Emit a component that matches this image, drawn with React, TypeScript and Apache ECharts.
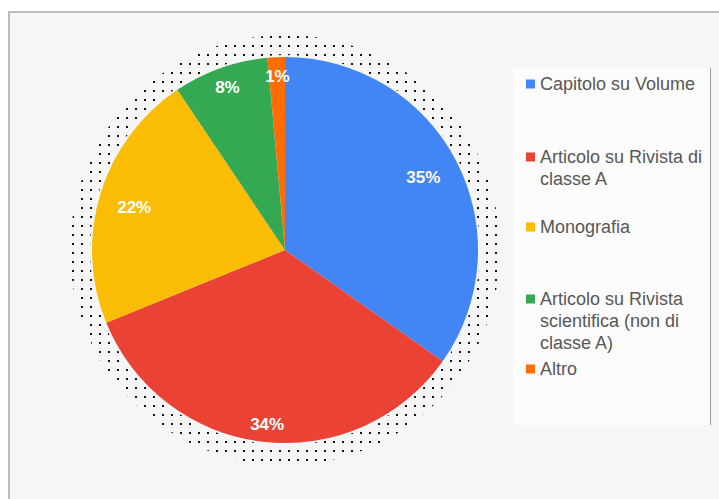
import React, { useEffect, useRef } from 'react';
import * as echarts from 'echarts';

// ---- data ----
const categories = [
  'Capitolo su Volume',
  'Articolo su Rivista di classe A',
  'Monografia',
  'Articolo su Rivista scientifica (non di classe A)',
  'Altro',
];
const legendLabels = [
  'Capitolo su Volume',
  'Articolo su Rivista di\nclasse A',
  'Monografia',
  'Articolo su Rivista\nscientifica (non di\nclasse A)',
  'Altro',
];
const values = [48, 47, 30, 11, 2];
const colors = ['#4285f4', '#ea4335', '#fbbc04', '#34a853', '#ff6d01'];

// ---- layout ----
const legendTops = [73, 146, 216, 288, 358];
const labelNudges: [number, number][] = [
  [-9, 4],
  [1, 10],
  [8, 6],
  [-2, -6],
  [0, -8],
];
const FONT = '"Liberation Sans", Arial, Helvetica, sans-serif';
const CENTER: [number, number] = [285, 250];
const R = 193;
const LINE_H = 22;

export default function App() {
  const ref = useRef<HTMLDivElement>(null);
  useEffect(() => {
    if (!ref.current) return;
    const chart = echarts.init(ref.current, undefined, { renderer: 'svg' });
    const pieData = categories.map((name, i) => ({
      name,
      value: values[i],
      itemStyle: { color: colors[i] },
    }));
    chart.setOption({
      animation: false,
      backgroundColor: '#ffffff',
      graphic: [
        {
          type: 'rect',
          z: -10,
          silent: true,
          shape: { x: 9, y: 12, width: 720, height: 500 },
          style: { fill: '#f6f6f6', stroke: '#bdbdbd', lineWidth: 2 },
        },
        {
          type: 'rect',
          z: -9,
          silent: true,
          shape: { x: 513, y: 68, width: 197, height: 357 },
          style: { fill: '#fcfcfc' },
        },
        {
          type: 'line',
          z: -8,
          silent: true,
          shape: { x1: 710.5, y1: 68, x2: 710.5, y2: 425 },
          style: { stroke: '#9a9a9a', lineWidth: 1 },
        },
      ],
      legend: categories.map((name, i) => {
        const lines = legendLabels[i].split('\n').length;
        // icon box tall enough that the square sits beside the first text line
        const h = 9 + (lines - 1) * LINE_H;
        const iconPath =
          lines === 1
            ? 'rect'
            : `path://M0,0H9V9H0Z M0,${h - 0.01}H0.01V${h}H0Z`;
        return {
          data: [name],
          left: 526,
          top: legendTops[i],
          orient: 'vertical',
          padding: 0,
          itemWidth: 9,
          itemHeight: h,
          icon: iconPath,
          itemStyle: { borderWidth: 0 },
          selectedMode: false,
          formatter: () => legendLabels[i],
          textStyle: {
            fontSize: 18,
            lineHeight: LINE_H,
            color: '#575757',
            fontFamily: FONT,
          },
        };
      }),
      series: [
        {
          type: 'pie',
          silent: true,
          center: CENTER,
          radius: [R + 2, R + 22],
          startAngle: 90,
          label: { show: false },
          labelLine: { show: false },
          itemStyle: {
            color: 'rgba(0,0,0,0)',
            borderWidth: 0,
            decal: {
              symbol: 'rect',
              symbolSize: 1,
              color: '#111',
              backgroundColor: 'rgba(0,0,0,0)',
              dashArrayX: [2, 7],
              dashArrayY: [2, 7],
              rotation: 0,
            },
          },
          data: [{ name: '__halo', value: 1 }],
        },
        {
          type: 'pie',
          silent: true,
          center: CENTER,
          radius: [0, R],
          startAngle: 90,
          clockwise: true,
          label: { show: false },
          labelLine: { show: false },
          itemStyle: { borderWidth: 0 },
          emphasis: { disabled: true },
          data: pieData,
        },
        {
          type: 'pie',
          silent: true,
          center: CENTER,
          radius: [148, 178],
          startAngle: 90,
          clockwise: true,
          percentPrecision: 0,
          itemStyle: { color: 'rgba(0,0,0,0)', borderWidth: 0 },
          labelLine: { show: false },
          emphasis: { disabled: true },
          label: {
            show: true,
            position: 'inside',
            formatter: '{d}%',
            color: '#ffffff',
            fontSize: 17,
            fontWeight: 'bold',
            fontFamily: FONT,
          },
          labelLayout: (params: any) => {
            const n = labelNudges[params.dataIndex] || [0, 0];
            return { dx: n[0], dy: n[1] };
          },
          data: categories.map((name, i) => ({ name, value: values[i] })),
        },
      ],
    });
    return () => chart.dispose();
  }, []);
  return (
    <div
      ref={ref}
      style={{ position: 'fixed', left: 0, top: 0, width: 719, height: 499 }}
    />
  );
}
